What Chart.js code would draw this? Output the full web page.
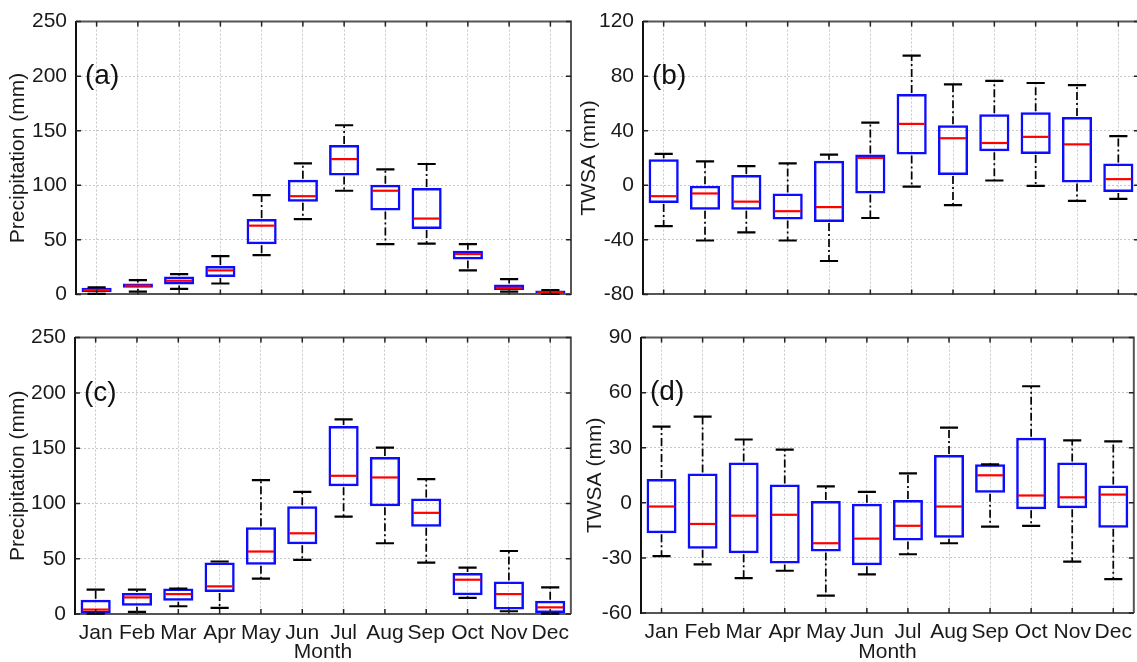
<!DOCTYPE html>
<html>
<head>
<meta charset="utf-8">
<script src="https://cdn.jsdelivr.net/npm/chart.js@4.4.1/dist/chart.umd.min.js"></script>
<style>
html,body{margin:0;padding:0;background:#fff;overflow:hidden;}
body{width:1137px;height:662px;position:relative;}
canvas{position:absolute;}
</style>
</head>
<body>
<canvas id="pa" width="576" height="316" style="left:0;top:0"></canvas>
<canvas id="pb" width="564" height="316" style="left:575px;top:0"></canvas>
<canvas id="pc" width="576" height="346" style="left:0;top:316px"></canvas>
<canvas id="pd" width="564" height="346" style="left:575px;top:316px"></canvas>
<script>
const months=["Jan","Feb","Mar","Apr","May","Jun","Jul","Aug","Sep","Oct","Nov","Dec"];

// (a) precipitation
const aMin=[0.5,2.5,5,10,36,69,95,46,46.5,22,2.5,0.5];
const aQ1 =[2,6,9,16,46,85,109,77,60,32,4,1];
const aMed=[4,8,12.5,22,63,90,124,95,69.5,37,6,2];
const aQ3 =[6,10,16.5,26,69,105,137,100.5,97.5,40,9,3.5];
const aMax=[6.5,13,18.5,35,91,120,155,114.5,119.5,46,14,4];

// (b) TWSA
const bMin=[-30,-40.5,-34.5,-40.5,-55.5,-24,-1,-14.5,3.5,-0.5,-11.5,-10];
const bQ1 =[-13,-18,-18,-25,-27,-6,22.5,7.5,25,23,2,-5];
const bMed=[-8,-6,-12,-19,-16,20,45,34.5,31,35.5,30,4.5];
const bQ3 =[19,0,7.5,-6,18,22.5,67,44,52,53.5,50,16];
const bMax=[23,17.5,14,16,22.5,46,95,74,76.5,75,73.5,36];

// (c) precipitation
const cMin=[0.3,2,7,5.5,32,49,88,64,46.5,14.5,2.5,0.3];
const cQ1 =[0.5,7.5,12,20,44.5,63,115.5,97.5,79,17,4,1];
const cMed=[4,15,18,25,56.5,73,125,123.5,91.5,31,18,6];
const cQ3 =[13,19,23,46.5,78.5,97.5,170,142,104.5,37,29.5,12];
const cMax=[22,22,23,47.5,121,110.5,176,150.5,122,42,57,24];

// (d) TWSA
const dMin=[-29,-33.5,-41,-37,-50.5,-39,-28,-22,-13,-12.5,-32,-41.5];
const dQ1 =[-16.5,-25,-27.5,-33,-26.5,-34,-20.5,-19,5.5,-3.5,-3,-13.5];
const dMed=[-2,-11.5,-7,-6.5,-22,-19.5,-12.5,-2,15,4,3,4.5];
const dQ3 =[13,16,22,10,1,-0.5,1.5,26,21,35.5,22,9.5];
const dMax=[41.5,47,34.5,29,9,6,16,41,21,63.5,34,33.5];

const FONT='"Liberation Sans", Arial, sans-serif';
const BOXW=0.73;

const boxExtras={
  id:'boxExtras',
  afterDatasetsDraw(chart,args,o){
    const {ctx,chartArea:a,scales:{x,y}}=chart;
    const step=x.getPixelForValue(1)-x.getPixelForValue(0);
    const cap=step*0.22, half=step*BOXW/2;
    ctx.save();
    for(let i=0;i<months.length;i++){
      const cx=x.getPixelForValue(i);
      const yMax=y.getPixelForValue(o.max[i]), yMin=y.getPixelForValue(o.min[i]);
      const yQ1=y.getPixelForValue(o.q1[i]), yQ3=y.getPixelForValue(o.q3[i]);
      // whiskers
      ctx.strokeStyle='#000';ctx.lineWidth=1.7;ctx.setLineDash([8,3,2,3]);
      ctx.beginPath();
      ctx.moveTo(cx,yQ3-1);ctx.lineTo(cx,yMax);
      ctx.moveTo(cx,yQ1+1);ctx.lineTo(cx,yMin);
      ctx.stroke();
      ctx.setLineDash([]);ctx.lineWidth=2.2;
      ctx.beginPath();
      ctx.moveTo(cx-cap,yMax);ctx.lineTo(cx+cap,yMax);
      ctx.moveTo(cx-cap,yMin);ctx.lineTo(cx+cap,yMin);
      ctx.stroke();
      // median
      const ym=y.getPixelForValue(o.med[i]);
      ctx.strokeStyle='#ff0000';ctx.lineWidth=2.2;
      ctx.beginPath();ctx.moveTo(cx-half+2,ym);ctx.lineTo(cx+half-2,ym);ctx.stroke();
    }
    // frame top / right
    ctx.strokeStyle='#555';ctx.lineWidth=2;
    ctx.beginPath();
    ctx.moveTo(a.left,a.top);ctx.lineTo(a.right,a.top);ctx.lineTo(a.right,a.bottom);
    ctx.stroke();
    // inward tick marks
    ctx.strokeStyle='#222';ctx.lineWidth=1.5;
    ctx.beginPath();
    x.ticks.forEach((t,i)=>{
      const px=x.getPixelForTick(i);
      ctx.moveTo(px,a.top);ctx.lineTo(px,a.top+5);
      ctx.moveTo(px,a.bottom);ctx.lineTo(px,a.bottom-5);
    });
    y.ticks.forEach((t,i)=>{
      const py=y.getPixelForTick(i);
      ctx.moveTo(a.left,py);ctx.lineTo(a.left+5,py);
      ctx.moveTo(a.right,py);ctx.lineTo(a.right-5,py);
    });
    ctx.stroke();
    // panel tag
    ctx.fillStyle='#111';ctx.font='28px '+FONT;ctx.textBaseline='middle';ctx.textAlign='left';
    ctx.fillText(o.tag,a.left+9,y.getPixelForValue(o.tagAt));
    ctx.restore();
  }
};

function panel(id,o){
  const font={family:FONT,size:21};
  return new Chart(document.getElementById(id).getContext('2d'),{
    type:'bar',
    data:{labels:months,datasets:[{
      data:o.q1.map((v,i)=>[v,o.q3[i]]),
      backgroundColor:'rgba(255,255,255,0)',
      borderColor:'#0c0cff',borderWidth:2.5,borderSkipped:false,
      barPercentage:BOXW,categoryPercentage:1
    }]},
    options:{
      responsive:false,animation:false,devicePixelRatio:1,
      layout:{padding:o.pad},
      plugins:{
        legend:{display:false},tooltip:{enabled:false},
        boxExtras:{min:o.min,q1:o.q1,med:o.med,q3:o.q3,max:o.max,tag:o.tag,tagAt:o.tagAt}
      },
      scales:{
        x:{
          grid:{offset:false,color:'#c8c8c8',drawTicks:false},
          border:{color:'#555',width:2,dash:[2,2]},
          ticks:{display:o.showX,padding:7,color:'#1a1a1a',font,maxRotation:0,minRotation:0,autoSkip:false},
          title:{display:o.showX,text:'Month',color:'#1a1a1a',font:{family:FONT,size:21,lineHeight:1},padding:{top:0,bottom:-1}},
          afterFit:s=>{s.height=o.xh;}
        },
        y:{
          min:o.yMin,max:o.yMax,
          grid:{color:'#c8c8c8',drawTicks:false},
          border:{color:'#111',width:2,dash:[2,2]},
          ticks:{stepSize:o.yStep,padding:9,color:'#1a1a1a',font},
          title:{display:true,text:o.yTitle,color:'#1a1a1a',font,padding:{top:o.tp,bottom:0}},
          afterFit:s=>{s.width=o.yw;}
        }
      }
    },
    plugins:[boxExtras]
  });
}

panel('pa',{min:aMin,q1:aQ1,med:aMed,q3:aQ3,max:aMax,tag:'(a)',tagAt:200,
  yMin:0,yMax:250,yStep:50,yTitle:'Precipitation (mm)',showX:false,
  pad:{left:0,right:5,top:20,bottom:0},yw:76,xh:10,tp:6});
panel('pb',{min:bMin,q1:bQ1,med:bMed,q3:bQ3,max:bMax,tag:'(b)',tagAt:80,
  yMin:-80,yMax:120,yStep:40,yTitle:'TWSA (mm)',showX:false,
  pad:{left:0,right:0,top:20,bottom:0},yw:68,xh:10,tp:2});
panel('pc',{min:cMin,q1:cQ1,med:cMed,q3:cQ3,max:cMax,tag:'(c)',tagAt:200,
  yMin:0,yMax:250,yStep:50,yTitle:'Precipitation (mm)',showX:true,
  pad:{left:0,right:3,top:10,bottom:0},yw:75,xh:48,tp:6});
panel('pd',{min:dMin,q1:dQ1,med:dMed,q3:dQ3,max:dMax,tag:'(d)',tagAt:60,
  yMin:-60,yMax:90,yStep:30,yTitle:'TWSA (mm)',showX:true,
  pad:{left:0,right:1,top:9,bottom:0},yw:66,xh:49,tp:8});
</script>
</body>
</html>
